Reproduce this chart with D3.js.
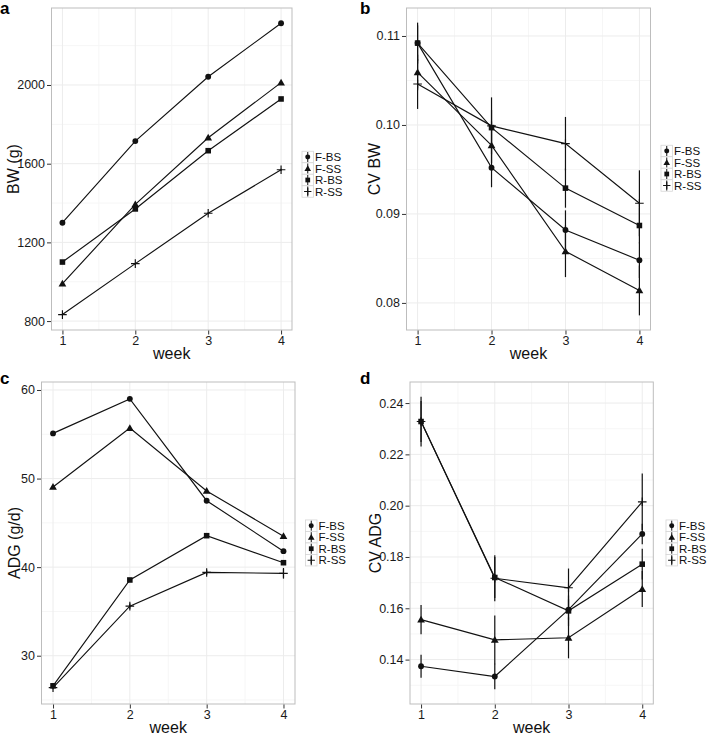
<!DOCTYPE html>
<html><head><meta charset="utf-8">
<script src="https://cdn.jsdelivr.net/npm/d3@7"></script>
<style>
body{margin:0;background:#fff;}
svg{display:block;font-family:Arial,"Liberation Sans",Helvetica,sans-serif;}
</style>
</head><body>
<svg id="chart" width="709" height="736"></svg>
<script>
// ---------------- data ----------------
const weeks = [1, 2, 3, 4];
const groups = ["F-BS", "F-SS", "R-BS", "R-SS"];
const shapes = ["circle", "triangle", "square", "plus"];

// panel a: BW (g)   rows follow `groups`
const bwValues = [
  [1300, 1715, 2042, 2314],
  [990, 1393, 1732, 2012],
  [1100, 1370, 1666, 1929],
  [833, 1092, 1348, 1569]
];
const bwErr = [
  [4, 5, 5, 3],
  [4, 5, 5, 5],
  [4, 5, 5, 5],
  [4, 5, 5, 5]
];
const bwTicks = [800, 1200, 1600, 2000];

// panel b: CV BW
const cvbwValues = [
  [0.1092, 0.0952, 0.0882, 0.0848],
  [0.1059, 0.0977, 0.0858, 0.0814],
  [0.1092, 0.0997, 0.0929, 0.0887],
  [0.1046, 0.0999, 0.0979, 0.0912]
];
const cvbwErr = [
  [0.0023, 0.0022, 0.0022, 0.0020],
  [0.0020, 0.0020, 0.0029, 0.0028],
  [0.0020, 0.0020, 0.0022, 0.0020],
  [0.0028, 0.0032, 0.0030, 0.0037]
];
const cvbwTicks = [0.08, 0.09, 0.10, 0.11];

// panel c: ADG (g/d)
const adgValues = [
  [55.1, 59.0, 47.5, 41.8],
  [49.05, 55.7, 48.6, 43.5],
  [26.6, 38.55, 43.55, 40.5],
  [26.4, 35.6, 39.4, 39.3]
];
const adgErr = [
  [0.2, 0.25, 0.2, 0.2],
  [0.2, 0.2, 0.2, 0.2],
  [0.2, 0.2, 0.2, 0.2],
  [0.2, 0.3, 0.3, 0.6]
];
const adgTicks = [30, 40, 50, 60];

// panel d: CV ADG
const cvadgValues = [
  [0.1374, 0.1334, 0.1595, 0.1890],
  [0.1556, 0.1477, 0.1485, 0.1675],
  [0.2328, 0.1720, 0.1590, 0.1772],
  [0.2328, 0.1717, 0.1680, 0.2015]
];
const cvadgErr = [
  [0.0045, 0.0050, 0.0040, 0.0040],
  [0.0057, 0.0095, 0.0080, 0.0070],
  [0.0080, 0.0080, 0.0060, 0.0060],
  [0.0097, 0.0090, 0.0075, 0.0110]
];
const cvadgTicks = [0.14, 0.16, 0.18, 0.20, 0.22, 0.24];

// ---------------- drawing ----------------
const svg = d3.select("#chart");
svg.append("rect").attr("width", 709).attr("height", 736).attr("fill", "#fff");

function symbolPath(shape, cx, cy, g, scale) {
  const s = scale || 1;
  if (shape === "plus") {
    const r = 4.3 * s;
    g.append("path")
      .attr("d", `M${cx - r},${cy}H${cx + r}M${cx},${cy - r}V${cy + r}`)
      .attr("stroke", "#111").attr("stroke-width", 1.15).attr("fill", "none");
    return;
  }
  let type, size;
  if (shape === "circle") { type = d3.symbolCircle; size = 27; }
  else if (shape === "triangle") { type = d3.symbolTriangle; size = 26; }
  else { type = d3.symbolSquare; size = 31; }
  g.append("path")
    .attr("d", d3.symbol().type(type).size(size * s * s)())
    .attr("transform", `translate(${cx},${cy + (shape === "triangle" ? 0.6 : 0)})`)
    .attr("fill", "#111");
}

function drawPanel(cfg) {
  const { x0, x1, y0, y1, values, errs, ticks, fmt } = cfg;
  const g = svg.append("g");

  const [wa, wb] = d3.extent(weeks);
  const xpad = (wb - wa) * 0.05;
  const x = d3.scaleLinear().domain([wa - xpad, wb + xpad]).range([x0, x1]);

  const lows = [], highs = [];
  values.forEach((row, i) => row.forEach((v, j) => { lows.push(v - errs[i][j]); highs.push(v + errs[i][j]); }));
  const lo = d3.min(lows), hi = d3.max(highs);
  const ypad = (hi - lo) * 0.05;
  const y = d3.scaleLinear().domain([lo - ypad, hi + ypad]).range([y1, y0]);

  // grid: minor then major
  const step = ticks[1] - ticks[0];
  const minorY = [];
  for (let k = -1; k < ticks.length; k++) {
    const v = ticks[0] + (k + 0.5) * step;
    if (v > y.domain()[0] && v < y.domain()[1]) minorY.push(v);
  }
  const minorX = [1.5, 2.5, 3.5];
  g.selectAll(null).data(minorY).join("line")
    .attr("x1", x0).attr("x2", x1).attr("y1", d => y(d)).attr("y2", d => y(d))
    .attr("stroke", "#f6f6f6").attr("stroke-width", 1);
  g.selectAll(null).data(minorX).join("line")
    .attr("y1", y0).attr("y2", y1).attr("x1", d => x(d)).attr("x2", d => x(d))
    .attr("stroke", "#f6f6f6").attr("stroke-width", 1);
  g.selectAll(null).data(ticks).join("line")
    .attr("x1", x0).attr("x2", x1).attr("y1", d => y(d)).attr("y2", d => y(d))
    .attr("stroke", "#ececec").attr("stroke-width", 1);
  g.selectAll(null).data(weeks).join("line")
    .attr("y1", y0).attr("y2", y1).attr("x1", d => x(d)).attr("x2", d => x(d))
    .attr("stroke", "#ececec").attr("stroke-width", 1);

  // lines
  const line = d3.line().x((d, j) => x(weeks[j])).y(d => y(d));
  values.forEach(row => {
    g.append("path").attr("d", line(row)).attr("fill", "none")
      .attr("stroke", "#111").attr("stroke-width", 1.15);
  });
  // error bars
  values.forEach((row, i) => row.forEach((v, j) => {
    g.append("line")
      .attr("x1", x(weeks[j])).attr("x2", x(weeks[j]))
      .attr("y1", y(v - errs[i][j])).attr("y2", y(v + errs[i][j]))
      .attr("stroke", "#111").attr("stroke-width", 1.2);
  }));
  // points
  values.forEach((row, i) => row.forEach((v, j) => {
    symbolPath(shapes[i], x(weeks[j]), y(v), g);
  }));

  // border
  g.append("rect").attr("x", x0).attr("y", y0).attr("width", x1 - x0).attr("height", y1 - y0)
    .attr("fill", "none").attr("stroke", "#bdbdbd").attr("stroke-width", 1);

  // axes
  const ya = g.append("g").attr("transform", `translate(${x0 - 0.5},0)`)
    .call(d3.axisLeft(y).tickValues(ticks).tickFormat(fmt).tickSize(4).tickPadding(2));
  const xa = g.append("g").attr("transform", `translate(0,${y1 + 0.5})`)
    .call(d3.axisBottom(x).tickValues(weeks).tickFormat(d3.format("d")).tickSize(4).tickPadding(2));
  [ya, xa].forEach(a => {
    a.select(".domain").remove();
    a.selectAll(".tick line").attr("stroke", "#333");
    a.selectAll("text").attr("font-size", 12.5).attr("fill", "#1a1a1a")
      .attr("font-family", "Arial,'Liberation Sans',sans-serif");
  });

  // titles
  g.append("text").attr("x", (x0 + x1) / 2).attr("y", y1 + 29)
    .attr("text-anchor", "middle").attr("font-size", 16).attr("fill", "#111").text("week");
  g.append("text").attr("transform", `translate(${cfg.ytx},${(y0 + y1) / 2}) rotate(-90)`)
    .attr("text-anchor", "middle").attr("font-size", 16).attr("fill", "#111").text(cfg.ytitle);
  g.append("text").attr("x", cfg.lx).attr("y", cfg.ly)
    .attr("font-size", 17).attr("font-weight", "bold").attr("fill", "#000").text(cfg.letter);

  // legend
  const lg = g.append("g");
  const kh = 11.5;
  groups.forEach((name, i) => {
    const cy = cfg.legY + i * kh;
    lg.append("rect").attr("x", cfg.legX).attr("y", cy - kh / 2).attr("width", kh).attr("height", kh)
      .attr("fill", "#fff").attr("stroke", "#d6d6d6").attr("stroke-width", 0.8);
    const cx = cfg.legX + kh / 2;
    lg.append("line").attr("x1", cx).attr("x2", cx).attr("y1", cy - 5).attr("y2", cy + 5)
      .attr("stroke", "#111").attr("stroke-width", 1);
    symbolPath(shapes[i], cx, cy, lg, 0.85);
    lg.append("text").attr("x", cfg.legX + kh + 1.5).attr("y", cy).attr("dy", "0.36em")
      .attr("font-size", 11.5).attr("fill", "#111").text(name);
  });
}

const f2 = d3.format(".2f");
drawPanel({ x0: 51.5, x1: 292, y0: 8, y1: 330, values: bwValues, errs: bwErr, ticks: bwTicks,
  fmt: d3.format("d"), ytitle: "BW (g)", ytx: 19, letter: "a", lx: 0, ly: 14,
  legX: 302, legY: 157 });
drawPanel({ x0: 406.5, x1: 650.5, y0: 8, y1: 330, values: cvbwValues, errs: cvbwErr, ticks: cvbwTicks,
  fmt: f2, ytitle: "CV BW", ytx: 380, letter: "b", lx: 360, ly: 14,
  legX: 661, legY: 151 });
drawPanel({ x0: 41.5, x1: 295, y0: 382, y1: 704, values: adgValues, errs: adgErr, ticks: adgTicks,
  fmt: d3.format("d"), ytitle: "ADG (g/d)", ytx: 20, letter: "c", lx: 0, ly: 384,
  legX: 305.5, legY: 525.7 });
drawPanel({ x0: 410, x1: 653.3, y0: 382, y1: 704, values: cvadgValues, errs: cvadgErr, ticks: cvadgTicks,
  fmt: f2, ytitle: "CV ADG", ytx: 380.5, letter: "d", lx: 360, ly: 384,
  legX: 666, legY: 525.7 });
</script>
</body></html>
